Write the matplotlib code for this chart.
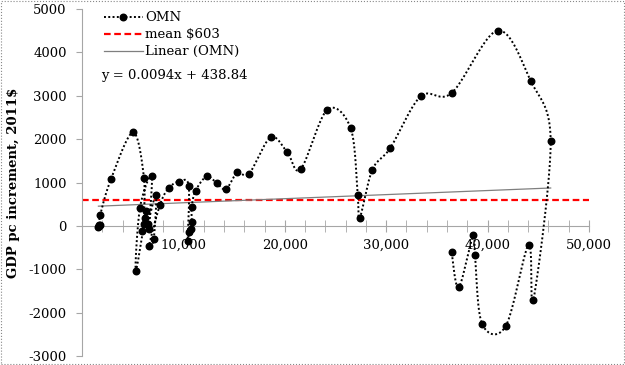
import matplotlib
matplotlib.use('Agg')
import matplotlib.pyplot as plt
from matplotlib.lines import Line2D
from matplotlib.patches import Rectangle
from matplotlib.ticker import MultipleLocator, FixedLocator, FixedFormatter
import numpy as np

plt.rcParams['font.family'] = 'DejaVu Serif'
plt.rcParams['axes.unicode_minus'] = False

# OMN: GDP pc level (x) against yearly increment (y), in time order
gdp_pc = [1620, 1660, 1700, 1740, 1800, 2860, 5030, 6110, 6080, 6180,
          5950, 6340, 5300, 5720, 6870, 6570, 6510, 7300, 7070, 6610,
          7690, 8550, 9600, 10520, 10420, 10550, 10720, 10820, 10820, 11210,
          12300, 13280, 14200, 15320, 16470, 18600, 20250, 21570, 24190, 26500,
          27190, 27390, 28630, 30400, 33400, 36460, 41000, 44250, 46220, 44510,
          44050, 41790, 39450, 38760, 38590, 37150, 36460]
increment = [-20, 10, -5, 25, 254, 1078, 2155, 1108, 39, 178,
             -115, 353, -1040, 423, 1155, -77, 39, 716, -307, -462,
             485, 870, 1023, 924, -346, -140, -69, 100, 446, 815,
             1139, 986, 848, 1231, 1200, 2040, 1693, 1309, 2679, 2247,
             723, 185, 1293, 1794, 2986, 3065, 4503, 3342, 1956, -1716,
             -431, -2309, -2256, -677, -208, -1416, -608]
mean_inc = 603
slope, intercept = 0.0094, 438.84

x_ticks = [10000, 20000, 30000, 40000, 50000]
x_labels = ['10,000', '20,000', '30,000', '40,000', '50,000']
y_ticks = [-3000, -2000, -1000, 0, 1000, 2000, 3000, 4000, 5000]


# excel like smoothed line: bezier segments, control points from neighbours
def smooth(x, y, sx, sy, n=25):
    P = np.column_stack([np.asarray(x) * sx, np.asarray(y) * sy])
    pts = np.vstack([P[0], P, P[-1]])
    out = []
    t = np.linspace(0, 1, n)[:, None]
    for i in range(len(P) - 1):
        p0, p1, p2, p3 = pts[i], pts[i + 1], pts[i + 2], pts[i + 3]
        c1 = p1 + (p2 - p0) / 6.0
        c2 = p2 - (p3 - p1) / 6.0
        seg = (1 - t)**3 * p1 + 3 * (1 - t)**2 * t * c1 + 3 * (1 - t) * t**2 * c2 + t**3 * p2
        out.append(seg if i == 0 else seg[1:])
    out = np.vstack(out)
    return out[:, 0] / sx, out[:, 1] / sy


fig = plt.figure(figsize=(6.25, 3.65), dpi=100)
ax = fig.add_axes([82 / 625, 9 / 365, 507 / 625, 347 / 365])
ax.set_xlim(0, 50000)
ax.set_ylim(-3000, 5000)

# smoothing done in pixel space
sx, sy = 507 / 50000, 347 / 8000
xs, ys = smooth(gdp_pc, increment, sx, sy)
ax.plot(xs, ys, color='black', lw=1.4, linestyle=(0, (1, 1.2)), zorder=3)
ax.plot(gdp_pc, increment, 'o', color='black', ms=4.7, zorder=4)

ax.axhline(mean_inc, color='#ff0000', lw=1.6, linestyle=(0, (3, 1.6)), zorder=2)
tx = np.array([min(gdp_pc), max(gdp_pc)])
ax.plot(tx, slope * tx + intercept, color='#7f7f7f', lw=0.9, zorder=2)

for s in ['top', 'right']:
    ax.spines[s].set_visible(False)
ax.spines['bottom'].set_position(('data', 0))
ax.spines['left'].set_color('#a6a6a6')
ax.spines['bottom'].set_color('#a6a6a6')

ax.xaxis.set_major_locator(FixedLocator(x_ticks))
ax.xaxis.set_major_formatter(FixedFormatter(x_labels))
ax.xaxis.set_minor_locator(MultipleLocator(2000))
ax.set_yticks(y_ticks)
ax.tick_params(axis='x', which='both', direction='inout', length=8, color='#a6a6a6', labelsize=9.5, pad=5)
ax.tick_params(axis='y', direction='out', length=4, color='#a6a6a6', labelsize=9.5, pad=7)

ax.set_ylabel('GDP pc increment, 2011$', fontsize=9.5, fontweight='bold', labelpad=6)

handles = [Line2D([], [], color='black', lw=1.4, linestyle=(0, (1, 1.2)), marker='o', ms=4.7),
           Line2D([], [], color='#ff0000', lw=1.6, linestyle=(0, (3, 1.6))),
           Line2D([], [], color='#7f7f7f', lw=0.9)]
ax.legend(handles, ['OMN', 'mean $603', 'Linear (OMN)'], loc='upper left',
          bbox_to_anchor=(95 / 625, 1 - 2 / 365), bbox_transform=fig.transFigure,
          frameon=False, fontsize=9.5, handlelength=2.9, handletextpad=0.2,
          labelspacing=0.3, borderpad=0.2)
fig.text(101 / 625, 1 - 75 / 365, 'y = 0.0094x + 438.84', fontsize=9.5, va='center')

fig.patches.append(Rectangle((0.001, 0.002), 0.997, 0.996, transform=fig.transFigure,
                             fill=False, edgecolor='#888888', lw=0.8, linestyle=':'))

fig.savefig('out.png', dpi=100)
